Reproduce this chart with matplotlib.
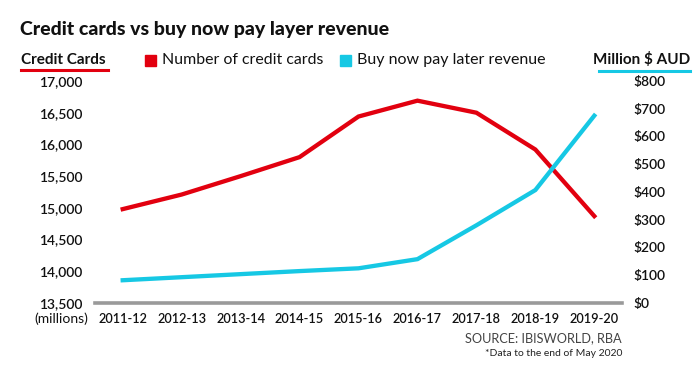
import matplotlib
matplotlib.use("Agg")
import matplotlib.pyplot as plt
from matplotlib.ticker import FuncFormatter

plt.rcParams['font.family'] = ['Lato', 'DejaVu Sans']

years = ["2011-12", "2012-13", "2013-14", "2014-15", "2015-16",
         "2016-17", "2017-18", "2018-19", "2019-20"]
credit_cards = [14980, 15210, 15500, 15800, 16440, 16690, 16500, 15920, 14870]
bnpl_revenue = [82, 93, 104, 115, 125, 158, 280, 407, 675]

left_ticks = [13500, 14000, 14500, 15000, 15500, 16000, 16500, 17000]
right_ticks = [0, 100, 200, 300, 400, 500, 600, 700, 800]

RED = "#E2000F"
CYAN = "#16C8E4"
TXT = "#111111"

W, H = 698, 370
fig = plt.figure(figsize=(W / 100, H / 100), dpi=100)
ax = fig.add_axes([95 / W, (H - 303) / H, (622 - 95) / W, (303 - 81) / H])
ax2 = ax.twinx()

x = list(range(len(years)))
ax.plot(x, credit_cards, color=RED, lw=3.1, solid_joinstyle='miter', zorder=3)
ax2.plot(x, bnpl_revenue, color=CYAN, lw=3.1, solid_joinstyle='miter', zorder=3)

ax.set_xlim(-0.47, len(years) - 1 + 0.47)
ax.set_ylim(13500, 17000)
ax2.set_ylim(0, 800)
ax.set_yticks(left_ticks)
ax2.set_yticks(right_ticks)
ax.yaxis.set_major_formatter(FuncFormatter(lambda v, p: f"{int(v):,}"))
ax2.yaxis.set_major_formatter(FuncFormatter(lambda v, p: f"${int(v)}"))
ax.set_xticks(x)
ax.set_xticklabels(years)

for a in (ax, ax2):
    for s in a.spines.values():
        s.set_visible(False)
    a.tick_params(length=0, labelsize=10, labelcolor=TXT)
ax.tick_params(axis='y', pad=9)
ax2.tick_params(axis='y', pad=8)
ax.tick_params(axis='x', pad=7, labelsize=9.2)
for lab in ax.get_xticklabels() + ax.get_yticklabels() + ax2.get_yticklabels():
    lab.set_fontweight('semibold')
ax.axhline(13500, color="#9a9a9a", lw=2.6, zorder=2, clip_on=False)

# Title
fig.text(20 / W, 1 - 30 / H, "Credit cards vs buy now pay layer revenue",
         fontsize=14, fontweight='black', color=TXT, va='center', ha='left')

# Axis headers
fig.text(21 / W, 1 - 60 / H, "Credit Cards", fontsize=11, fontweight='bold',
         color=TXT, va='center', ha='left')
fig.add_artist(plt.Line2D([21 / W, 108 / W], [1 - 70 / H, 1 - 70 / H],
                          color=RED, lw=2.2, transform=fig.transFigure))
fig.text(690 / W, 1 - 60 / H, "Million $ AUD", fontsize=11, fontweight='bold',
         color=TXT, va='center', ha='right')
fig.add_artist(plt.Line2D([599 / W, 690 / W], [1 - 71 / H, 1 - 71 / H],
                          color=CYAN, lw=2.2, transform=fig.transFigure))

# Legend
fig.add_artist(plt.Rectangle((145 / W, 1 - 66 / H), 11 / W, 11 / H,
                             color=RED, transform=fig.transFigure))
fig.text(162 / W, 1 - 60 / H, "Number of credit cards", fontsize=11.4,
         color=TXT, va='center', ha='left')
fig.add_artist(plt.Rectangle((340 / W, 1 - 66 / H), 11 / W, 11 / H,
                             color=CYAN, transform=fig.transFigure))
fig.text(357 / W, 1 - 60 / H, "Buy now pay later revenue", fontsize=11.5,
         color=TXT, va='center', ha='left')

# units under left axis
fig.text(88 / W, 1 - 319 / H, "(millions)", fontsize=10, color=TXT,
         va='center', ha='right')

# Source
fig.text(622 / W, 1 - 338 / H, "SOURCE: IBISWORLD, RBA", fontsize=9.2,
         color="#444444", va='center', ha='right')
fig.text(622 / W, 1 - 353 / H, "*Data to the end of May 2020", fontsize=7.5,
         color="#222222", va='center', ha='right')

fig.savefig("out.png", dpi=100, facecolor="white")
